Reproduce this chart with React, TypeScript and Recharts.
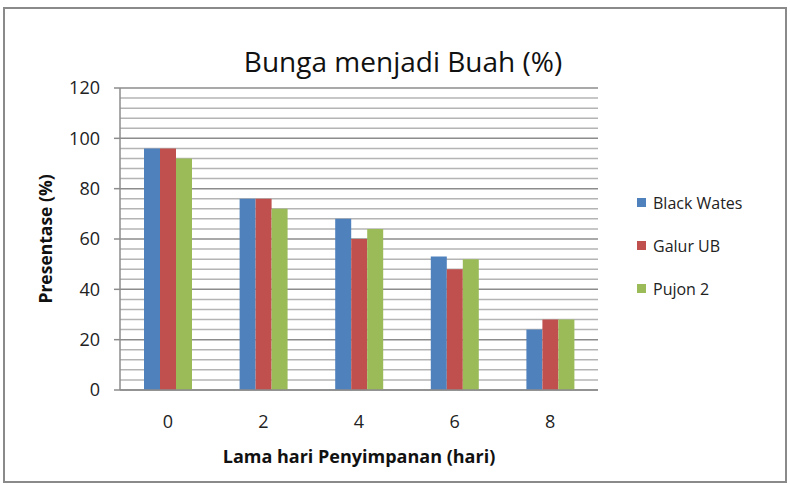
import React from 'react';
import { BarChart, Bar, XAxis, YAxis, CartesianGrid, Legend } from 'recharts';

const categories = ['0', '2', '4', '6', '8'];
const blackWates = [96, 76, 68, 53, 24];
const galurUB = [96, 76, 60, 48, 28];
const pujon2 = [92, 72, 64, 52, 28];
const yTicks = [0, 20, 40, 60, 80, 100, 120];
const minorValues = [4, 8, 12, 16, 24, 28, 32, 36, 44, 48, 52, 56, 64, 68, 72, 76, 84, 88, 92, 96, 104, 108, 112, 116];

const seriesNames = ['Black Wates', 'Galur UB', 'Pujon 2'];
const colors = ['#4F81BD', '#C0504D', '#9BBB59'];

const data = categories.map((c, i) => ({
  day: c,
  bw: blackWates[i],
  gu: galurUB[i],
  pj: pujon2[i],
}));

const FONT = '"Open Sans", sans-serif';

const LegendContent = () => (
  <div style={{ fontFamily: FONT, fontSize: 16, color: '#222' }}>
    {seriesNames.map((n, i) => (
      <div key={n} style={{ display: 'flex', alignItems: 'center', height: 43 }}>
        <div style={{ width: 9, height: 9, background: colors[i], marginRight: 7 }} />
        <span>{n}</span>
      </div>
    ))}
  </div>
);

export default function App() {
  return (
    <div style={{ position: 'absolute', left: 0, top: 0, width: 790, height: 485, background: '#fff' }}>
      <div
        style={{
          position: 'absolute',
          left: 3,
          top: 7,
          width: 780,
          height: 472,
          border: '2px solid #8a8a8a',
        }}
      />
      <div
        style={{
          position: 'absolute',
          left: 0,
          width: 806,
          top: 42,
          textAlign: 'center',
          fontFamily: FONT,
          fontSize: 28,
          color: '#111',
          lineHeight: '38px',
        }}
      >
        Bunga menjadi Buah (%)
      </div>
      <div style={{ position: 'absolute', left: 0, top: 0 }}>
        <BarChart
          width={790}
          height={485}
          data={data}
          margin={{ top: 88, right: 192, bottom: 0, left: 0 }}
          barGap={0}
          barSize={16}
        >
          <CartesianGrid
            horizontal
            vertical={false}
            horizontalValues={minorValues}
            stroke="#b4b4b4"
            strokeWidth={1.5}
          />
          <CartesianGrid
            horizontal
            vertical={false}
            horizontalValues={yTicks}
            stroke="#8c8c8c"
            strokeWidth={1.5}
          />
          <XAxis
            dataKey="day"
            height={95}
            tickLine={false}
            tickSize={6}
            tickMargin={19}
            axisLine={{ stroke: '#8c8c8c', strokeWidth: 1.5 }}
            tick={{ fontFamily: FONT, fontSize: 18, fill: '#222' }}
            label={{
              value: 'Lama hari Penyimpanan (hari)',
              position: 'center',
              dy: 19,
              style: { fontFamily: FONT, fontSize: 18, fontWeight: 700, fill: '#111' },
            }}
          />
          <YAxis
            width={120}
            domain={[0, 120]}
            ticks={yTicks}
            interval={0}
            tickSize={6}
            tickMargin={14}
            tickLine={{ stroke: '#8c8c8c', strokeWidth: 1.5 }}
            axisLine={{ stroke: '#8c8c8c', strokeWidth: 1.5 }}
            tick={{ fontFamily: FONT, fontSize: 18, fill: '#222' }}
            label={{
              value: 'Presentase (%)',
              angle: -90,
              position: 'center',
              dx: -14,
              style: { fontFamily: FONT, fontSize: 17.5, fontWeight: 700, fill: '#111', textAnchor: 'middle' },
            }}
          />
          <Legend
            layout="vertical"
            align="center"
            verticalAlign="middle"
            content={<LegendContent />}
            wrapperStyle={{ position: 'absolute', left: 637, top: 181, width: 150 }}
          />
          <Bar dataKey="bw" name={seriesNames[0]} fill={colors[0]} isAnimationActive={false} />
          <Bar dataKey="gu" name={seriesNames[1]} fill={colors[1]} isAnimationActive={false} />
          <Bar dataKey="pj" name={seriesNames[2]} fill={colors[2]} isAnimationActive={false} />
        </BarChart>
      </div>
    </div>
  );
}
